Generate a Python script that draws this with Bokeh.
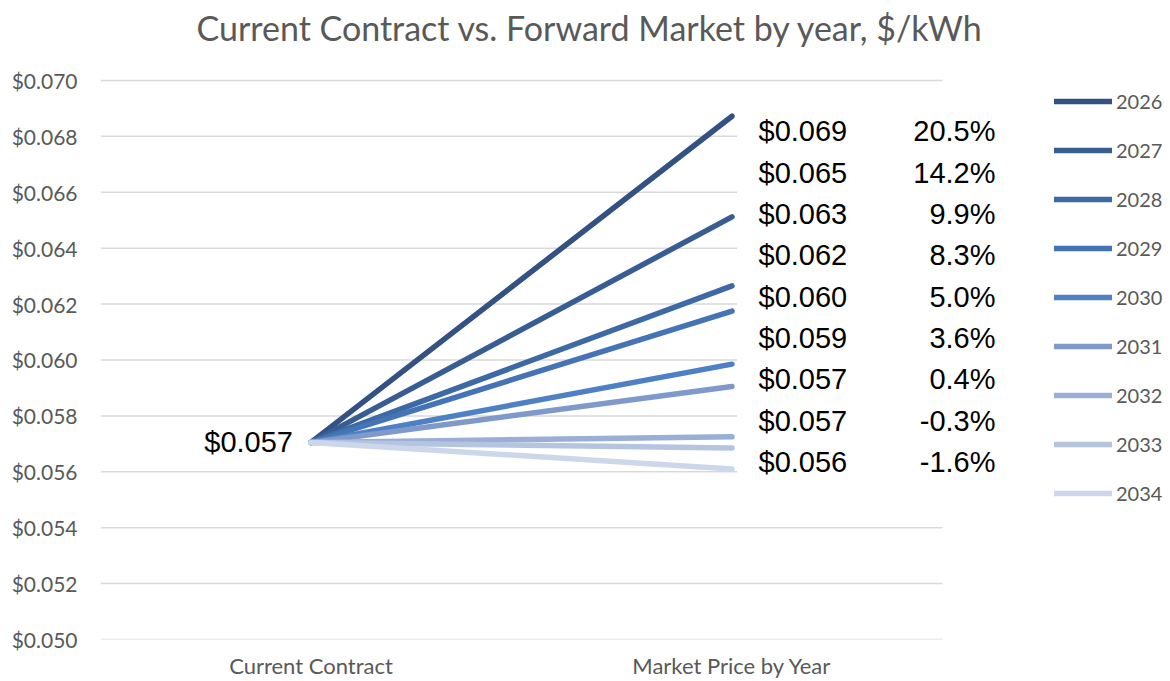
from bokeh.plotting import figure
from bokeh.models import Range1d, FixedTicker, NumeralTickFormatter, Legend, LegendItem, ColumnDataSource
from bokeh.core.properties import value
from bokeh.embed import file_html
from bokeh.resources import INLINE

# ---------------- data ----------------
title_text = "Current Contract vs. Forward Market by year, $/kWh"
categories = ["Current Contract", "Market Price by Year"]
cat_x = [0.5, 1.5]
years = ["2026", "2027", "2028", "2029", "2030", "2031", "2032", "2033", "2034"]
current_price = 0.05705
market_prices = [0.06872, 0.06512, 0.06265, 0.06175, 0.05985, 0.05905, 0.05725, 0.05685, 0.05610]
price_labels = ["$0.069", "$0.065", "$0.063", "$0.062", "$0.060", "$0.059", "$0.057", "$0.057", "$0.056"]
pct_labels = ["20.5%", "14.2%", "9.9%", "8.3%", "5.0%", "3.6%", "0.4%", "-0.3%", "-1.6%"]
current_label = "$0.057"
y_ticks = [0.050, 0.052, 0.054, 0.056, 0.058, 0.060, 0.062, 0.064, 0.066, 0.068, 0.070]
colors = ["#335182", "#385D93", "#3D69A4", "#4474B5", "#4D80C4", "#7E99CA", "#99AFD6",
          "#B4C4E1", "#CDD7EB"]

# ---------------- layout ----------------
W, H = 1166, 681
LEFT, TOP, BOTTOM = 100, 48, 41
PX_X = 421.0          # px per x unit
PX_Y = 28000.0        # px per $ unit
frame_w = W - LEFT
frame_h = H - TOP - BOTTOM
y0 = 0.050
y1 = y0 + frame_h / PX_Y
x1 = frame_w / PX_X

GRAY = "#595959"
ARIAL = value("Liberation Sans")

p = figure(width=W, height=H, output_backend="svg", toolbar_location=None,
           x_range=Range1d(0, x1), y_range=Range1d(y0, y1),
           min_border_left=LEFT, min_border_right=0, min_border_top=TOP,
           min_border_bottom=BOTTOM)
p.outline_line_color = None
p.background_fill_color = "white"
p.border_fill_color = "white"
p.xgrid.visible = False
p.ygrid.visible = False

# title
p.title.text = title_text
p.title.text_font = "Lato"
p.title.text_font_size = "34px"
p.title.text_font_style = "normal"
p.title.text_color = GRAY
p.title.align = "left"
p.title.offset = 96
p.title.standoff = 2

# axes
p.yaxis.ticker = FixedTicker(ticks=y_ticks)
p.yaxis.formatter = NumeralTickFormatter(format="$0.000")
p.yaxis.axis_line_color = None
p.yaxis.major_tick_line_color = None
p.yaxis.minor_tick_line_color = None
p.yaxis.major_label_text_font = "Lato"
p.yaxis.major_label_text_font_size = "21px"
p.yaxis.major_label_text_color = GRAY
p.yaxis.major_label_standoff = 17

p.xaxis.ticker = FixedTicker(ticks=cat_x)
p.xaxis.major_label_overrides = {cat_x[0]: categories[0], cat_x[1]: categories[1]}
p.xaxis.axis_line_color = None
p.xaxis.major_tick_line_color = None
p.xaxis.minor_tick_line_color = None
p.xaxis.major_label_text_font = "Lato"
p.xaxis.major_label_text_font_size = "22px"
p.xaxis.major_label_text_color = GRAY
p.xaxis.major_label_standoff = 6

# gridlines (plot area spans the two categories)
p.segment(x0=0, x1=2, y0=y_ticks, y1=y_ticks, line_color="#D9D9D9", line_width=1.5)
# white backing of the data-label block
p.quad(left=1.512, right=2.0, bottom=0.0555, top=0.0685, fill_color="white", line_color=None)

# lines
items = []
for yr, mp, c in zip(years, market_prices, colors):
    r = p.line(x=cat_x, y=[current_price, mp], line_color=c, line_width=5.5, line_cap="round")
    items.append(LegendItem(label=yr, renderers=[r]))

# labels
n = len(years)
row_top = 0.06818
row_step = 0.001478
label_y = [row_top - i * row_step for i in range(n)]
src = ColumnDataSource(dict(x=[cat_x[1]] * n, y=label_y, price=price_labels, pct=pct_labels))
p.text(x="x", y="y", text="price", source=src, x_offset=26.5, text_align="left",
       text_baseline="middle", text_font=ARIAL, text_font_size=value("29px"), text_color="black")
p.text(x="x", y="y", text="pct", source=src, x_offset=263.5, text_align="right",
       text_baseline="middle", text_font=ARIAL, text_font_size=value("29px"), text_color="black")
p.text(x=[cat_x[0]], y=[current_price], text=[current_label], x_offset=-18, text_align="right",
       text_baseline="middle", text_font=ARIAL, text_font_size=value("29px"), text_color="black")

legend = Legend(items=items, location=(954, 134), orientation="vertical",
                glyph_width=58, glyph_height=24, label_height=24, spacing=25,
                label_standoff=4, padding=0, margin=0,
                border_line_color=None, background_fill_alpha=0,
                label_text_font="Lato", label_text_font_size="20px", label_text_color=GRAY)
p.add_layout(legend, "center")

open("out.html", "w").write(file_html(p, INLINE))
